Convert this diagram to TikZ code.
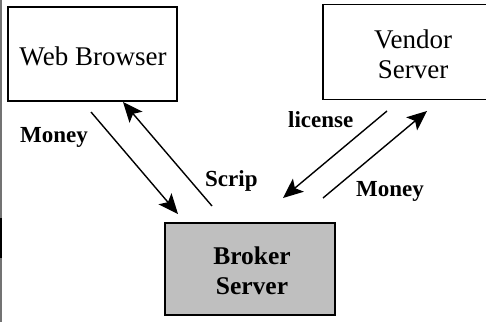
\documentclass[tikz,border=0pt]{standalone}
\usepackage{fontspec}
\setmainfont{Liberation Serif}
\usetikzlibrary{arrows.meta}

\tikzset{
  party/.style={draw=black, line width=1.8pt, fill=white, inner sep=0pt},
  broker/.style={draw=black, line width=1.8pt, fill=black!25, inner sep=0pt},
  flow/.style={line width=1.4pt, -{Stealth[length=20pt,width=17pt,inset=4.5pt]}},
  boxtext/.style={font=\fontsize{27}{30}\selectfont, align=center},
  flowlabel/.style={font=\fontsize{23}{26}\selectfont\bfseries, inner sep=0pt, anchor=base west},
}

\begin{document}
\begin{tikzpicture}[x=1pt, y=-1pt]
  \useasboundingbox (0,0) rectangle (486,322);

  % scanned page edge on the left
  \draw[black!55, line width=1.5pt] (0.75,0) -- (0.75,322);
  \draw[black, line width=2pt] (1,218) -- (1,258);

  % the three parties
  \node[party, minimum width=169pt, minimum height=94pt] (browser) at (92.5,54) {};
  \node[boxtext, anchor=base] (browsertext) at (93,65) {Web Browser};

  \node[party, minimum width=180pt, minimum height=95pt] (vendor) at (413,52) {};
  \node[boxtext, anchor=center] (vendortext) at (413,54) {Vendor\\Server};

  \node[broker, minimum width=170pt, minimum height=92pt] (brokerbox) at (250,269) {};
  \node[boxtext, anchor=center, font=\fontsize{25.5}{30}\selectfont\bfseries] (brokertext) at (252,271) {Broker\\Server};

  % arrow end points
  \coordinate (m1s) at (91,112);
  \coordinate (m1e) at (178,214);
  \coordinate (s1s) at (212,206);
  \coordinate (s1e) at (123,102);
  \coordinate (l1s) at (387,111);
  \coordinate (l1e) at (283,198);
  \coordinate (m2s) at (323,198);
  \coordinate (m2e) at (427,111);

  \draw[flow] (m1s) -- (m1e);
  \draw[flow] (s1s) -- (s1e);
  \draw[flow] (l1s) -- (l1e);
  \draw[flow] (m2s) -- (m2e);

  % flow labels
  \node[flowlabel] (money1) at (20,142) {Money};
  \node[flowlabel] (scrip) at (205,186) {Scrip};
  \node[flowlabel] (license) at (288,127) {license};
  \node[flowlabel] (money2) at (356,196) {Money};
\end{tikzpicture}
\end{document}
